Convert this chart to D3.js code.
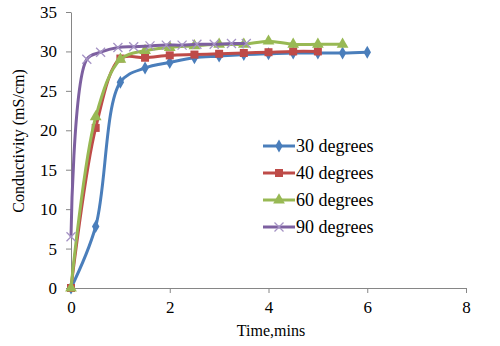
<!DOCTYPE html>
<html>
<head>
<meta charset="utf-8">
<script src="https://cdn.jsdelivr.net/npm/d3@7"></script>
<style>
  body { margin: 0; background: #fff; }
  svg text { font-family: "Liberation Serif", "Times New Roman", Tinos, "DejaVu Serif", serif; fill: #000; }
  .axis path, .axis line { stroke: #868686; stroke-width: 1; }
</style>
</head>
<body>
<svg id="chart"></svg>
<script>
// data
const seriesNames = ["30 degrees", "40 degrees", "60 degrees", "90 degrees"];
const xTicks = [0, 2, 4, 6, 8];
const yTicks = [0, 5, 10, 15, 20, 25, 30, 35];

const time30 = [0, 0.5, 1, 1.5, 2, 2.5, 3, 3.5, 4, 4.5, 5, 5.5, 6];
const cond30 = [0, 7.8, 26.1, 27.9, 28.6, 29.2, 29.4, 29.6, 29.7, 29.8, 29.8, 29.8, 29.9];

const time40 = [0, 0.5, 1, 1.5, 2, 2.5, 3, 3.5, 4, 4.5, 5];
const cond40 = [0, 20.3, 29.1, 29.2, 29.5, 29.6, 29.7, 29.8, 29.9, 30.0, 30.0];

const time60 = [0, 0.5, 1, 1.5, 2, 2.5, 3, 3.5, 4, 4.5, 5, 5.5];
const cond60 = [0, 21.7, 29.0, 30.1, 30.5, 30.7, 30.9, 30.9, 31.3, 30.9, 30.9, 30.9];

const time90 = [0, 0.32, 0.6, 0.95, 1.27, 1.6, 1.93, 2.25, 2.55, 2.9, 3.25, 3.55];
const cond90 = [6.5, 29.0, 29.9, 30.5, 30.6, 30.7, 30.8, 30.8, 30.9, 30.9, 31.0, 31.0];

const colors = ["#4A7EBB", "#BE4B48", "#98B954", "#7D60A0"];
const symbols = ["diamond", "square", "triangle", "cross"];

const width = 500, height = 346;
const margin = {top: 12, right: 34, bottom: 58, left: 71};
const innerW = width - margin.left - margin.right;
const innerH = height - margin.top - margin.bottom;

const series = [
  {name: seriesNames[0], x: time30, y: cond30},
  {name: seriesNames[1], x: time40, y: cond40},
  {name: seriesNames[2], x: time60, y: cond60},
  {name: seriesNames[3], x: time90, y: cond90}
].map((s, i) => ({
  name: s.name,
  color: colors[i],
  symbol: symbols[i],
  points: s.x.map((t, j) => ({t: t, c: s.y[j]}))
}));

const svg = d3.select("#chart")
  .attr("width", width)
  .attr("height", height);

const chart = svg.append("g")
  .attr("transform", `translate(${margin.left},${margin.top})`);

const xScale = d3.scaleLinear().domain([0, 8]).range([0, innerW]);
const yScale = d3.scaleLinear().domain([0, 35]).range([innerH, 0]);

// axes
const xAxisG = chart.append("g")
  .attr("class", "axis x-axis")
  .attr("transform", `translate(0,${innerH})`)
  .call(d3.axisBottom(xScale).tickValues(xTicks).tickSize(5).tickSizeOuter(0).tickPadding(8));

const yAxisG = chart.append("g")
  .attr("class", "axis y-axis")
  .call(d3.axisLeft(yScale).tickValues(yTicks).tickSize(5).tickSizeOuter(0).tickPadding(9));

chart.selectAll(".axis").attr("font-family", null).attr("font-size", null);
chart.selectAll(".axis text").attr("fill", "#000").style("font-size", "17px");

// axis titles
svg.append("text")
  .attr("x", 271)
  .attr("y", 336)
  .attr("text-anchor", "middle")
  .style("font-size", "16px")
  .text("Time,mins");

svg.append("text")
  .attr("transform", "rotate(-90)")
  .attr("x", -141)
  .attr("y", 24)
  .attr("text-anchor", "middle")
  .style("font-size", "16px")
  .text("Conductivity (mS/cm)");

// lines
const line = d3.line()
  .x(d => xScale(d.t))
  .y(d => yScale(d.c))
  .curve(d3.curveCatmullRom.alpha(0.5));

function drawMarker(g, s) {
  if (s.symbol === "cross") {
    const r = 4.5;
    g.append("path")
      .attr("d", `M${-r},${-r}L${r},${r}M${-r},${r}L${r},${-r}`)
      .attr("stroke", "#A593C4")
      .attr("stroke-width", 1.3)
      .attr("fill", "none");
  } else {
    const type = s.symbol === "diamond" ? d3.symbolDiamond
      : s.symbol === "square" ? d3.symbolSquare : d3.symbolTriangle;
    const area = s.symbol === "diamond" ? 48 : s.symbol === "square" ? 64 : 60;
    g.append("path")
      .attr("d", d3.symbol().type(type).size(area)())
      .attr("fill", s.color);
  }
}

series.forEach(s => {
  chart.append("path")
    .datum(s.points)
    .attr("fill", "none")
    .attr("stroke", s.color)
    .attr("stroke-width", 3)
    .attr("stroke-linejoin", "round")
    .attr("d", line);

  chart.selectAll(null)
    .data(s.points)
    .join("g")
    .attr("transform", d => `translate(${xScale(d.t)},${yScale(d.c)})`)
    .each(function() { drawMarker(d3.select(this), s); });
});

// legend
const legend = svg.append("g").attr("transform", "translate(263,146)");
series.forEach((s, i) => {
  const row = legend.append("g").attr("transform", `translate(0,${i * 27})`);
  row.append("line")
    .attr("x1", 0).attr("x2", 32)
    .attr("y1", 0).attr("y2", 0)
    .attr("stroke", s.color)
    .attr("stroke-width", 3);
  const m = row.append("g").attr("transform", "translate(16,0)");
  drawMarker(m, s);
  row.append("text")
    .attr("x", 33)
    .attr("y", 6)
    .style("font-size", "18px")
    .text(s.name);
});
</script>
</body>
</html>
